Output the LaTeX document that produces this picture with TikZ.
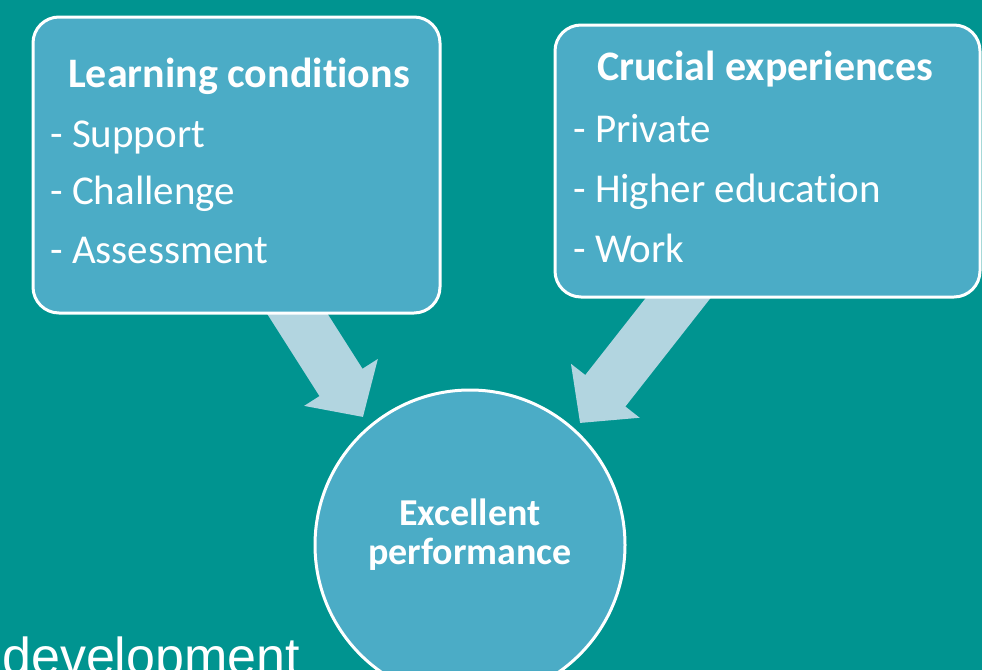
\documentclass[tikz,border=0pt]{standalone}
\usepackage{fontspec}
\setmainfont{Carlito}[RawFeature={-liga}]
\newfontfamily\arialfont{Liberation Sans}
\usetikzlibrary{arrows.meta}
\definecolor{teal}{HTML}{009490}
\definecolor{boxblue}{HTML}{4BACC6}
\definecolor{arrowblue}{HTML}{B2D5E0}
\tikzset{
  box/.style={draw=white,line width=3pt,fill=boxblue,rounded corners=26pt,inner sep=0pt},
  bigarrow/.style={arrowblue,line width=51pt,-{Triangle[width=85pt,length=41pt]}},
  head/.style={text=white,font=\fontsize{42}{46}\selectfont\bfseries,anchor=base west,inner sep=0pt},
  item/.style={text=white,font=\fontsize{41}{45}\selectfont,anchor=base west,inner sep=0pt},
  circtext/.style={text=white,font=\fontsize{38}{40}\selectfont\bfseries,anchor=base,inner sep=0pt}
}
\begin{document}
\begin{tikzpicture}[x=1pt,y=-1pt]
\useasboundingbox (0,0) rectangle (982,670);
\fill[teal] (0,0) rectangle (982,670);

\coordinate (lstart) at (272,274);
\coordinate (ltip) at (363,417);
\coordinate (rstart) at (708,260);
\coordinate (rtip) at (580,423);
\draw[bigarrow] (lstart) -- (ltip);
\draw[bigarrow] (rstart) -- (rtip);

\node[box,minimum width=407pt,minimum height=296pt] (learn) at (236.5,165) {};
\node[box,minimum width=425pt,minimum height=272pt] (crucial) at (767.5,161) {};
\node[box,circle,minimum size=310pt] (perf) at (470,545) {};

\node[head] (lhead) at (68,87) {Learning conditions};
\node[item] (lsup) at (50,147) {- Support};
\node[item] (lchal) at (50,204) {- Challenge};
\node[item] (lass) at (50,263) {- Assessment};

\node[head] (rhead) at (597,80) {Crucial experiences};
\node[item] (rpriv) at (573,142) {- Private};
\node[item] (rhigh) at (573,202) {- Higher education};
\node[item] (rwork) at (573,262) {- Work};

\node[circtext] (pexc) at (470,525) {Excellent};
\node[circtext] (pperf) at (470,564) {performance};

\node[text=white,font=\arialfont\fontsize{52}{60}\selectfont,anchor=base west,inner sep=0pt] (dev) at (2,674) {development};
\end{tikzpicture}
\end{document}
